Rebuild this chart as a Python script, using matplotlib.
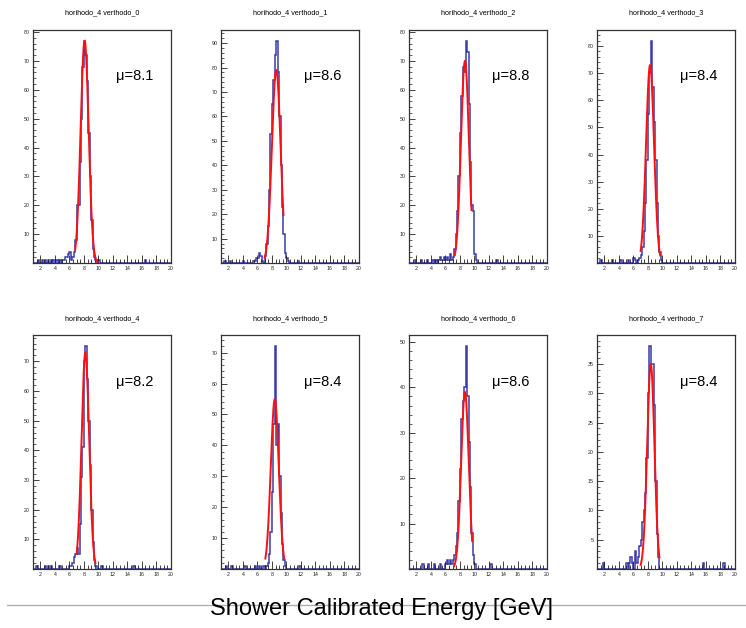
import matplotlib
matplotlib.use('Agg')
import matplotlib.pyplot as plt
from matplotlib.ticker import MultipleLocator
import numpy as np

plt.rcParams['font.family'] = ['Liberation Sans', 'DejaVu Sans']

# panel titles and fit labels
titles = ['horihodo_4 verthodo_%d' % i for i in range(8)]
mu_labels = ['8.1', '8.6', '8.8', '8.4', '8.2', '8.4', '8.6', '8.4']

# gaussian fit parameters
fit_amp = [77, 79, 70, 73, 73, 55, 39, 35]
fit_mu = [8.1, 8.6, 8.7, 8.3, 8.2, 8.4, 8.7, 8.4]
fit_sigma = [0.55, 0.6, 0.55, 0.55, 0.52, 0.55, 0.52, 0.5]
fit_lo = [6.8, 7.0, 7.3, 7.0, 7.0, 7.1, 7.2, 7.0]
fit_hi = [9.9, 9.6, 9.6, 9.7, 9.6, 9.7, 9.7, 9.6]

# histogram contents (0.2 GeV bins): peak window start + counts, plus lone tail entries
win_start = [5.0, 5.4, 5.0, 6.0, 6.0, 7.2, 6.0, 5.0]
win_counts = [
    [1, 1, 2, 2, 3, 4, 1, 2, 4, 8, 20, 20, 35, 50, 68, 77, 72, 63, 45, 30, 15, 5, 2, 1, 0, 1],
    [1, 1, 2, 2, 4, 3, 1, 0, 3, 8, 15, 30, 53, 65, 75, 85, 91, 78, 60, 40, 23, 12, 4, 2, 1],
    [1, 2, 1, 1, 2, 1, 2, 1, 3, 1, 2, 5, 10, 18, 30, 45, 58, 68, 66, 77, 73, 55, 35, 20, 18, 3, 1],
    [2, 1, 0, 1, 2, 3, 6, 12, 22, 38, 55, 70, 82, 65, 52, 38, 22, 10, 4, 1],
    [1, 1, 2, 4, 5, 7, 5, 15, 31, 41, 70, 75, 64, 50, 35, 20, 9, 3, 1],
    [1, 2, 5, 12, 25, 47, 72, 40, 47, 30, 18, 8, 3, 1],
    [1, 2, 1, 2, 1, 2, 3, 5, 8, 15, 22, 33, 37, 40, 49, 38, 28, 18, 8, 3, 1],
    [1, 0, 1, 2, 1, 0, 3, 1, 2, 4, 5, 8, 10, 13, 19, 30, 38, 35, 35, 28, 15, 6, 2],
]
tail_x = [
    [1.6, 2.2, 2.6, 3.0, 3.4, 3.8, 4.2, 4.6, 16.4],
    [1.4, 2.2, 4.0, 11.6],
    [1.8, 2.6, 3.4, 4.2, 4.6, 13.0],
    [1.4, 3.0, 4.2, 5.2],
    [1.4, 2.6, 3.0, 3.4, 4.6, 10.4, 14.8],
    [1.6, 2.4, 4.2, 5.6, 6.2, 6.8, 11.8],
    [2.8, 3.6, 4.4, 5.2, 12.2],
    [1.8, 15.6, 18.4],
]
ytick_step = [10, 10, 10, 10, 10, 10, 10, 5]

edges = np.round(np.arange(0, 20.0001, 0.2), 2)

fig = plt.figure(figsize=(7.46, 6.28), dpi=100)
lefts = [0.044, 0.296, 0.548, 0.800]
bottoms = [0.581, 0.094]
w, h = 0.185, 0.372

for i in range(8):
    row, col = divmod(i, 4)
    ax = fig.add_axes([lefts[col], bottoms[row], w, h])

    counts = np.zeros(len(edges) - 1)
    i0 = int(round(win_start[i] / 0.2))
    counts[i0:i0 + len(win_counts[i])] = win_counts[i]
    for t in tail_x[i]:
        counts[int(round(t / 0.2))] += 1

    ax.stairs(counts, edges, color='#3a3aaa', lw=1.1)

    xs = np.linspace(fit_lo[i], fit_hi[i], 200)
    ax.plot(xs, fit_amp[i] * np.exp(-0.5 * ((xs - fit_mu[i]) / fit_sigma[i]) ** 2),
            color='#ff1010', lw=1.4)

    ax.set_xlim(0.95, 20)
    ax.set_ylim(0, counts.max() * 1.05)
    ax.xaxis.set_major_locator(MultipleLocator(2))
    ax.xaxis.set_minor_locator(MultipleLocator(0.5))
    ax.yaxis.set_major_locator(MultipleLocator(ytick_step[i]))
    ax.yaxis.set_minor_locator(MultipleLocator(ytick_step[i] / 5))
    ax.tick_params(which='both', direction='in', labelsize=3.8, colors='#222222', pad=2)
    ax.tick_params(which='major', axis='x', length=6, width=0.6)
    ax.tick_params(which='minor', axis='x', length=3, width=0.6)
    ax.tick_params(which='major', axis='y', length=4, width=0.6)
    ax.tick_params(which='minor', axis='y', length=2, width=0.5)
    yt = ax.get_yticks()
    ax.set_yticks(yt[(yt > 0) & (yt <= counts.max() * 1.05)])
    xt = np.arange(2, 21, 2)
    ax.set_xticks(xt)
    for s in ax.spines.values():
        s.set_linewidth(0.9)
        s.set_color('#333333')

    ax.text(0.6, 0.8, '\u03bc=' + mu_labels[i], transform=ax.transAxes,
            fontsize=10.5, ha='left', va='center')
    ax.set_title(titles[i], fontsize=5.2, pad=11)

fig.add_artist(plt.Line2D([0.01, 1.0], [1 - 605 / 628, 1 - 605 / 628],
                          color='#b0b0b0', lw=1))
fig.text(0.512, 1 - 609 / 628, 'Shower Calibrated Energy [GeV]',
         fontsize=17, ha='center', va='center')

fig.savefig('out.png', dpi=100)
